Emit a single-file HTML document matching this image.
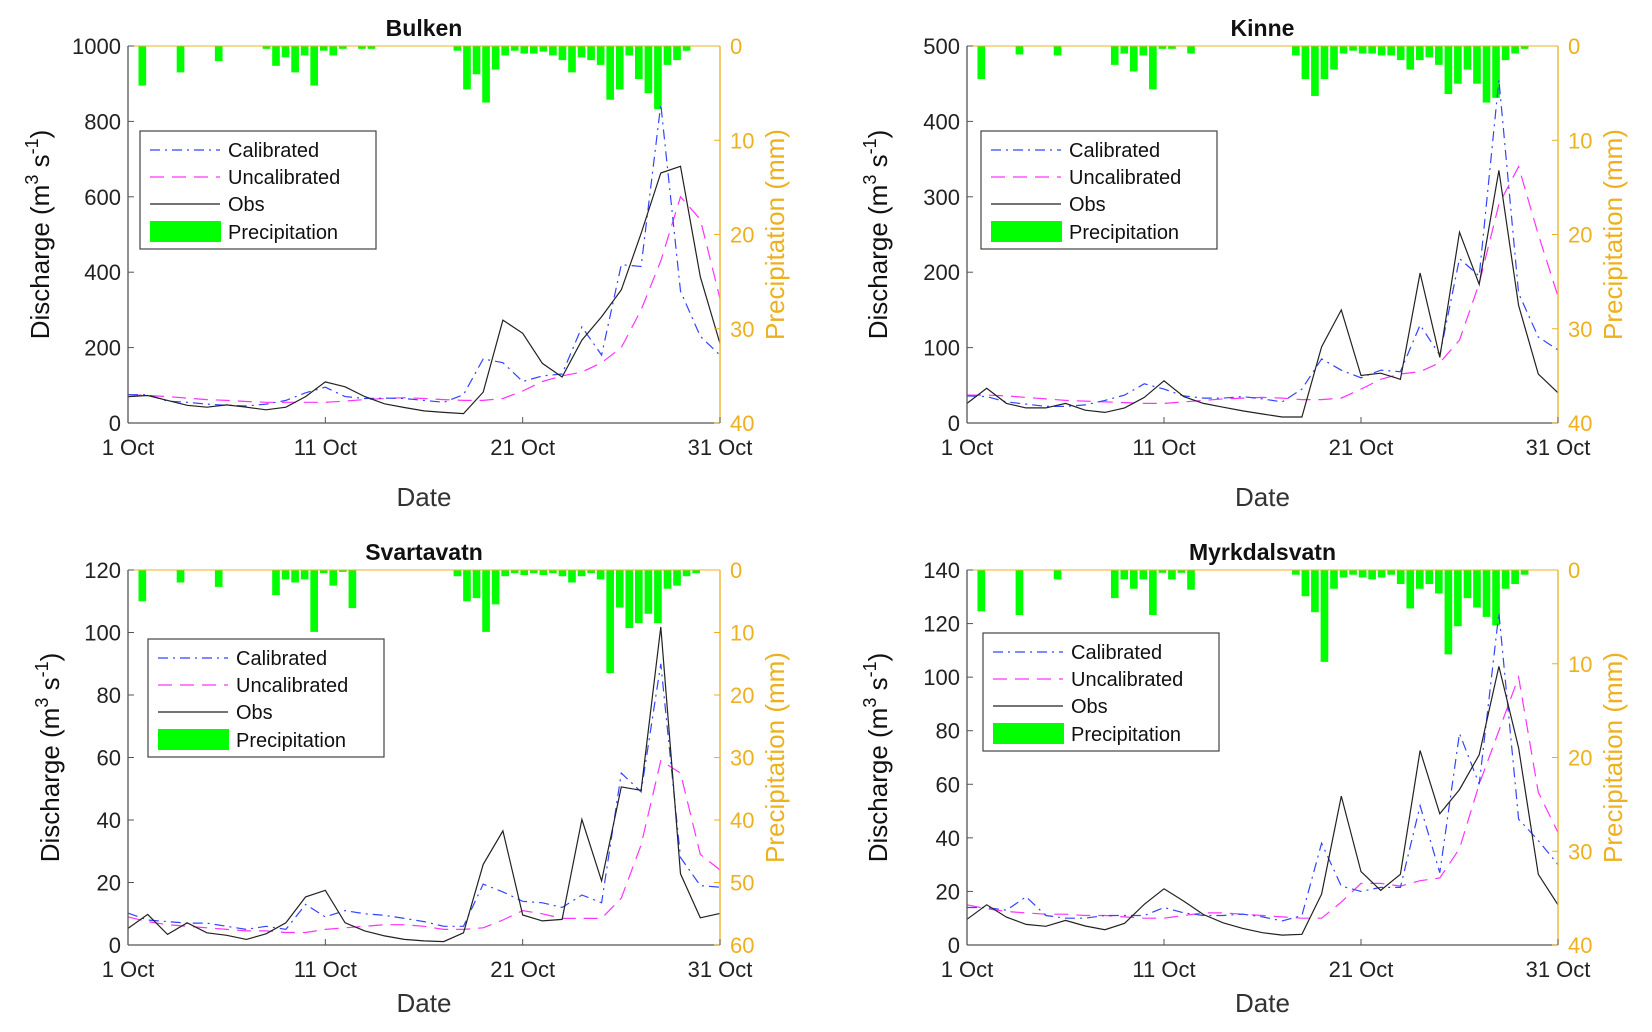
<!DOCTYPE html>
<html><head><meta charset="utf-8">
<style>
html,body{margin:0;padding:0;background:#fff;}
svg{display:block;font-family:"Liberation Sans",Arial,sans-serif;}
</style></head>
<body>
<svg id="fig" width="1652" height="1032" viewBox="0 0 1652 1032" xmlns="http://www.w3.org/2000/svg"></svg>
<script>
const days = [1,2,3,4,5,6,7,8,9,10,11,12,13,14,15,16,17,18,19,20,21,22,23,24,25,26,27,28,29,30,31];
const xTickDays = [1,11,21,31];
const xTickLabels = ["1 Oct","11 Oct","21 Oct","31 Oct"];

const bulkenObs = [70,73,60,47,42,48,42,35,42,70,109,96,70,51,41,32,28,25,82,273,238,158,122,220,282,353,503,663,681,388,211];
const bulkenCal = [75,75,58,55,50,47,45,50,60,80,95,70,65,66,65,60,55,75,170,160,110,125,130,255,180,420,415,845,350,230,180];
const bulkenUncal = [75,73,70,66,62,60,57,55,55,55,55,58,62,65,67,65,62,60,60,65,85,110,125,135,160,200,300,430,600,540,330];
const bulkenPrecip = [0,4.2,0,0,0,2.8,0,0,0,1.6,0,0,0,0,0.3,2.1,1.2,2.8,1,4.2,0.5,1,0.3,0,0.3,0.3,0,0,0,0,0,0,0,0,0.5,4.6,3,6,2.5,1,0.5,0.8,0.8,0.6,1,1.5,2.8,1.2,1.5,2,5.7,4.6,1,3.5,5,6.7,2,1.5,0.5,0,0,0];
const bulkenYTicks = [0,200,400,600,800,1000];
const bulkenPTicks = [0,10,20,30,40];

const kinneObs = [26,46,26,20,20,26,17,14,20,34,56,35,26,21,16,12,8,8,101,150,63,66,58,199,87,253,184,335,156,65,40];
const kinneCal = [36,35,28,25,22,22,24,30,37,52,45,36,33,33,35,32,28,45,85,70,60,70,68,130,90,218,195,455,172,114,97];
const kinneUncal = [37,37,36,34,32,30,29,28,27,26,26,28,30,32,33,34,33,31,31,33,45,58,65,68,80,110,185,290,340,250,168];
const kinnePrecip = [0,3.5,0,0,0,0.9,0,0,0,1,0,0,0,0,0,2,0.8,2.7,1,4.6,0.3,0.3,0,0.8,0,0,0,0,0,0,0,0,0,0,1,3.5,5.3,3.5,2.5,0.8,0.5,0.8,0.8,1,1,1.5,2.5,1.5,1.2,2,5.1,4,2.5,4,6,5.5,1.5,0.8,0.3,0,0,0];
const kinneYTicks = [0,100,200,300,400,500];
const kinnePTicks = [0,10,20,30,40];

const svartObs = [5.3,9.8,3.4,7.1,3.9,3.1,1.8,3.6,7.1,15.4,17.5,7.1,4.5,2.9,1.8,1.3,1.1,3.9,25.8,36.5,9.6,7.7,8.2,40.2,20.5,50.6,49.5,101.8,22.8,8.7,10.1];
const svartCal = [10.2,8,7.5,7,7,6,5,6,5,13,9,11,10,9.5,8.5,7.5,6,6,19.5,17,14,13.5,12,16,13.5,55,49,90,28,19,18.5];
const svartUncal = [9,7.5,6.5,6,5.5,5,4.5,4.5,4,4,5,5.5,6,6.5,6.5,6,5,5,5.5,8,11,10,8.5,8.5,8.5,15,32,59,55,29,24];
const svartPrecip = [0,5,0,0,0,2,0,0,0,2.7,0,0,0,0,0,4,1.5,2,1.5,9.9,0.5,2.5,0.3,6.1,0,0,0,0,0,0,0,0,0,0,1,5,4.5,9.9,5.5,1,0.5,0.8,0.5,0.8,0.5,1,2,1,0.5,1.5,16.5,6,9.3,8.5,7,8.5,3,2.5,1,0.5,0,0];
const svartYTicks = [0,20,40,60,80,100,120];
const svartPTicks = [0,10,20,30,40,50,60];

const myrkObs = [9.6,15,10.4,7.7,7,9.2,7.1,5.7,8.1,15.2,21,16.4,11.4,8.3,6.2,4.6,3.7,4,19,55.6,27.4,20.4,26.4,72.6,49,58,71,104,73.6,26.4,15];
const myrkCal = [14,14,13,18,11,10,10,11,11,11,14,12,11,11,11.5,10.5,9,11,38,22,20,21.5,21.5,52,27,79,60,124,47,39,30];
const myrkUncal = [15,13.5,12.5,12,11.5,11.5,11,11,10.5,10,10,11,12,12,11.5,11,10.5,10,10,16,23,23,22,24,25,36,60,80,100,57,42];
const myrkPrecip = [0,4.4,0,0,0,4.8,0,0,0,1,0,0,0,0,0,3,1,2,1,4.8,0.3,1,0.3,2.1,0,0,0,0,0,0,0,0,0,0,0.5,2.8,4.5,9.8,2,0.8,0.5,0.8,1,0.8,0.5,1.5,4.1,2,1.5,2.5,9,6,3,4,5,5.9,2,1.5,0.5,0,0,0];
const myrkYTicks = [0,20,40,60,80,100,120,140];
const myrkPTicks = [0,10,20,30,40];

const NS = "http://www.w3.org/2000/svg";
const svg = document.getElementById("fig");
function mk(tag, attrs, parent){
  const e = document.createElementNS(NS, tag);
  for (const k in attrs) e.setAttribute(k, attrs[k]);
  (parent||svg).appendChild(e);
  return e;
}
const ORANGE = "#EDB120";

function panel(cfg){
  const g = mk("g", {});
  
  
  const L=cfg.x0, R=cfg.x1, T=cfg.y0, B=cfg.y1;
  const yMax = cfg.yTicks[cfg.yTicks.length-1];
  const pMax = cfg.pTicks[cfg.pTicks.length-1];
  const xs = d => L + (d-1)/30*(R-L);
  const ys = v => B - v/yMax*(B-T);
  const ps = v => T + v/pMax*(B-T);

  const pg = mk("g", {}, g);
  
  
  const n = cfg.precip.length;
  cfg.precip.forEach((v,i)=>{
    if (v<=0) return;
    const xa = L + i/n*(R-L), xb = L + (i+1)/n*(R-L);
    const w = Math.max(2,(xb-xa)*0.8);
    const r = mk("rect", {x:(xa+xb)/2-w/2, y:T, width:w, height:ps(v)-T, fill:"#00ff00"}, pg);
    
    
  });

  function series(vals, color, dash, name, width){
    const p = mk("polyline", {points: vals.map((v,i)=>xs(days[i]).toFixed(1)+","+ys(v).toFixed(1)).join(" "),
      fill:"none", stroke:color, "stroke-width":width, "stroke-dasharray":dash}, g);
    
    
  }
  series(cfg.uncal, "#ff33ff", "14 8", "uncalibrated", 1.2);
  series(cfg.cal, "#3344ff", "10 5 2 5", "calibrated", 1.2);
  series(cfg.obs, "#222", "none", "obs", 1.2);

  mk("line",{x1:L,y1:T,x2:R,y2:T,stroke:ORANGE,"stroke-width":1},g);
  mk("line",{x1:L,y1:T,x2:L,y2:B,stroke:"#555","stroke-width":1.3},g);
  mk("line",{x1:L,y1:B,x2:R,y2:B,stroke:"#555","stroke-width":1.3},g);
  mk("line",{x1:R,y1:T,x2:R,y2:B,stroke:ORANGE,"stroke-width":1.3},g);

  cfg.yTicks.forEach(v=>{
    const y=ys(v);
    mk("line",{x1:L,y1:y,x2:L+6,y2:y,stroke:"#555"},g);
    const t=mk("text",{x:L-7,y:y+8,"text-anchor":"end","font-size":22,fill:"#222"},g);
    t.textContent=v;
    
    
  });
  cfg.pTicks.forEach(v=>{
    const y=ps(v);
    mk("line",{x1:R,y1:y,x2:R-6,y2:y,stroke:ORANGE},g);
    const t=mk("text",{x:R+10,y:y+8,"text-anchor":"start","font-size":22,fill:ORANGE},g);
    t.textContent=v;
    
    
  });
  xTickDays.forEach((d,i)=>{
    const x=xs(d);
    mk("line",{x1:x,y1:B,x2:x,y2:B-6,stroke:"#555"},g);
    const t=mk("text",{x:x,y:B+32,"text-anchor":"middle","font-size":22,fill:"#222"},g);
    t.textContent=xTickLabels[i];
    
    
  });

  const title=mk("text",{x:(L+R)/2,y:T-10,"text-anchor":"middle","font-size":23,"font-weight":"bold",fill:"#111"},g);
  title.textContent=cfg.title;
  
  

  const xl=mk("text",{x:(L+R)/2,y:cfg.dateY,"text-anchor":"middle","font-size":26,fill:"#333"},g);
  xl.textContent="Date";
  
  

  const cy=(T+B)/2;
  const yl=mk("text",{x:0,y:0,"text-anchor":"middle","font-size":26,fill:"#111",transform:`translate(${cfg.ylX},${cy}) rotate(-90)`},g);
  yl.innerHTML='Discharge (m<tspan dy="-11" font-size="18">3</tspan><tspan dy="11"> s</tspan><tspan dy="-11" font-size="18">-1</tspan><tspan dy="11">)</tspan>';
  
  

  const rl=mk("text",{x:0,y:0,"text-anchor":"middle","font-size":26,fill:ORANGE,transform:`translate(${R+64},${cy}) rotate(-90)`},g);
  rl.textContent="Precipitation (mm)";
  
  

  const lg=mk("g",{},g);
  
  
  const lx=cfg.lx, ly=cfg.ly;
  mk("rect",{x:lx,y:ly,width:236,height:118,fill:"#fff",stroke:"#444","stroke-width":1.2},lg);
  const rows=[["Calibrated","#3344ff","10 5 2 5"],["Uncalibrated","#ff33ff","14 8"],["Obs","#222","none"]];
  rows.forEach((r,i)=>{
    const yy=ly+19+i*27;
    mk("line",{x1:lx+10,y1:yy,x2:lx+80,y2:yy,stroke:r[1],"stroke-width":1.2,"stroke-dasharray":r[2]},lg);
    const t=mk("text",{x:lx+88,y:yy+7,"font-size":20,fill:"#111"},lg);
    t.textContent=r[0];
    
    
  });
  mk("rect",{x:lx+10,y:ly+90,width:71,height:21,fill:"#00ff00"},lg);
  const pt=mk("text",{x:lx+88,y:ly+108,"font-size":20,fill:"#111"},lg);
  pt.textContent="Precipitation";
  
  
}

panel({key:"bulken",title:"Bulken",x0:128,x1:720,y0:46,y1:423,yTicks:bulkenYTicks,pTicks:bulkenPTicks,obs:bulkenObs,cal:bulkenCal,uncal:bulkenUncal,precip:bulkenPrecip,lx:140,ly:131,ylX:49,dateY:506});
panel({key:"kinne",title:"Kinne",x0:967,x1:1558,y0:46,y1:423,yTicks:kinneYTicks,pTicks:kinnePTicks,obs:kinneObs,cal:kinneCal,uncal:kinneUncal,precip:kinnePrecip,lx:981,ly:131,ylX:887,dateY:506});
panel({key:"svartavatn",title:"Svartavatn",x0:128,x1:720,y0:570,y1:945,yTicks:svartYTicks,pTicks:svartPTicks,obs:svartObs,cal:svartCal,uncal:svartUncal,precip:svartPrecip,lx:148,ly:639,ylX:59,dateY:1012});
panel({key:"myrkdalsvatn",title:"Myrkdalsvatn",x0:967,x1:1558,y0:570,y1:945,yTicks:myrkYTicks,pTicks:myrkPTicks,obs:myrkObs,cal:myrkCal,uncal:myrkUncal,precip:myrkPrecip,lx:983,ly:633,ylX:887,dateY:1012});
</script>
</body></html>
